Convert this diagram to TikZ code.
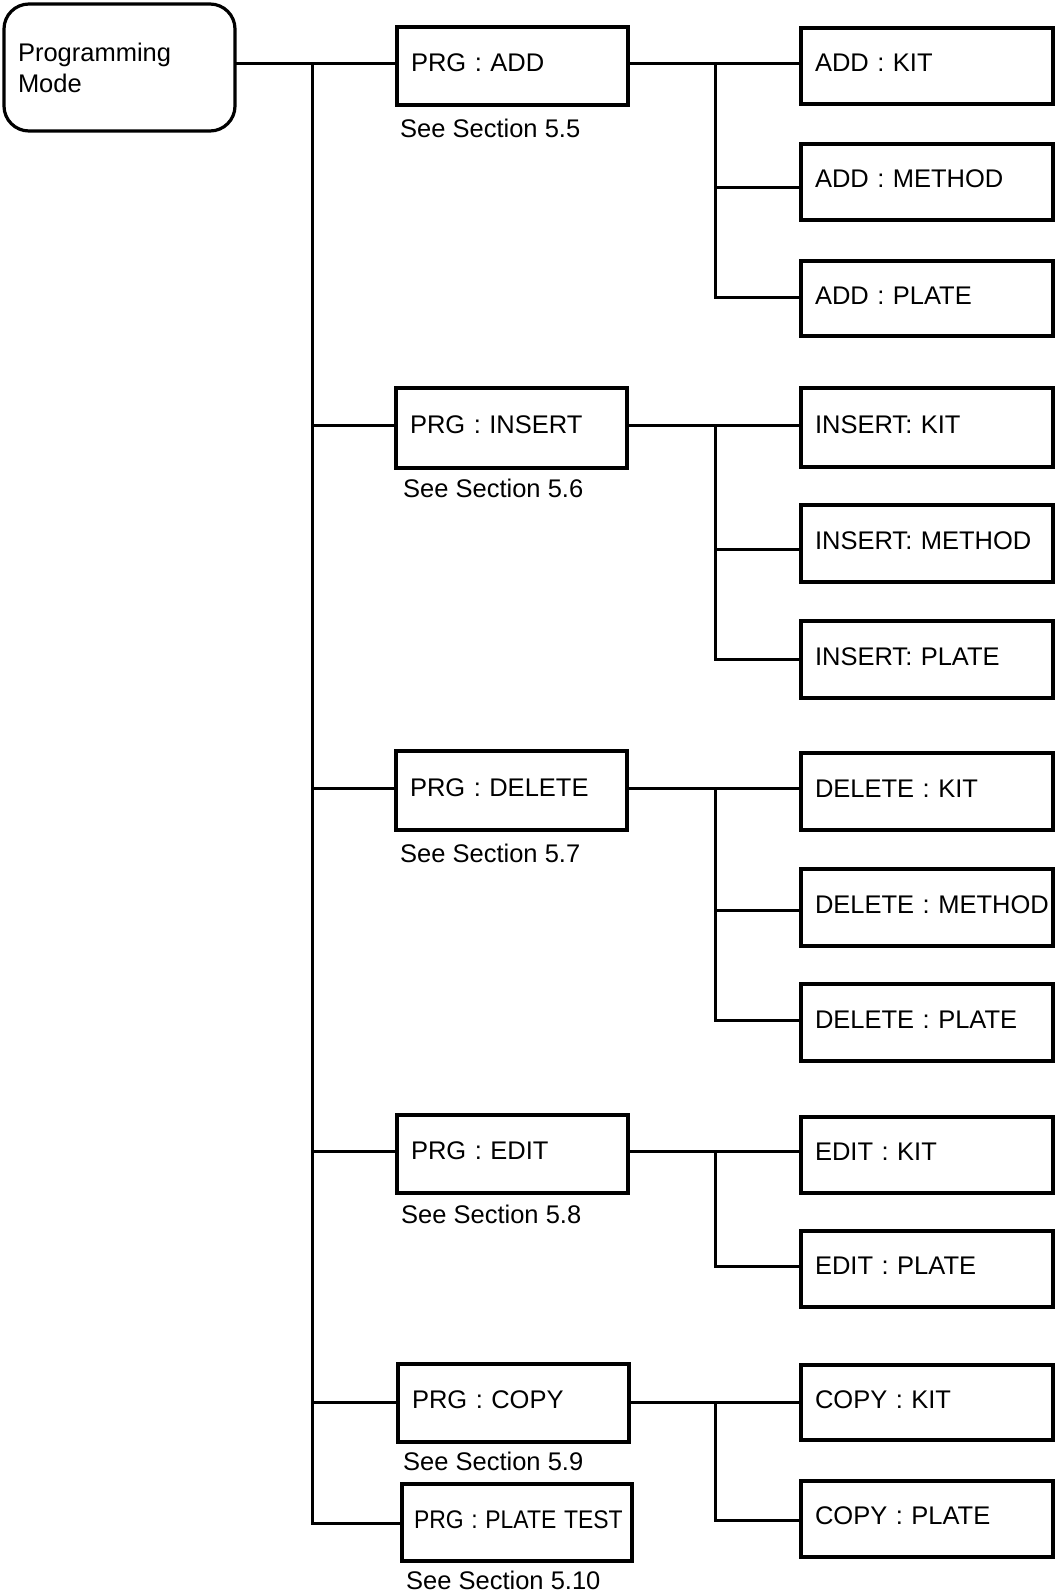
\documentclass[tikz,border=0pt]{standalone}
\usepackage{fontspec}
\setmainfont{Liberation Sans}
\usepackage{graphicx}
\begin{document}
\begin{tikzpicture}[x=1pt,y=-1pt,
  base/.style={draw, line width=3.2pt, outer sep=0pt, inner xsep=14pt, inner ysep=0pt,
    align=left, anchor=north west, font=\fontsize{25.5}{31}\selectfont,
    text height=18pt, text depth=7pt},
  lvl/.style={base, minimum width=231pt, text width=203pt},
  child/.style={base, minimum width=252pt, text width=224pt},
  note/.style={anchor=west, inner sep=0pt, font=\fontsize{25.5}{31}\selectfont,
    text height=18pt, text depth=0pt},
  conn/.style={line width=3pt, line cap=rect}]
\useasboundingbox (0,0) rectangle (1055,1593);

% root
\node[draw, line width=3.2pt, rounded corners=25pt, outer sep=0pt, anchor=north west,
  minimum width=231pt, minimum height=127pt, inner xsep=14pt, text width=203pt,
  align=left, font=\fontsize{25.5}{31}\selectfont] (pm) at (4,4) {Programming\\Mode};

% level 1
\node[lvl, minimum height=78pt] (add) at (397,27) {PRG : ADD};
\node[lvl, minimum height=80pt] (ins) at (396,388) {PRG : INSERT};
\node[lvl, minimum height=79pt] (del) at (396,751) {PRG : DELETE};
\node[lvl, minimum height=78pt] (edit) at (397,1115) {PRG : EDIT};
\node[lvl, minimum height=78pt] (copy) at (398,1364) {PRG : COPY};
\node[base, minimum width=230pt, minimum height=77pt, inner xsep=12pt, text width=206pt] (ptest) at (402,1484) {\scalebox{0.9}[1]{PRG : PLATE TEST}};

% notes
\node[note] (n55) at (400,128) {See Section 5.5};
\node[note] (n56) at (403,488) {See Section 5.6};
\node[note] (n57) at (400,853) {See Section 5.7};
\node[note] (n58) at (401,1214) {See Section 5.8};
\node[note] (n59) at (403,1461) {See Section 5.9};
\node[note] (n510) at (406,1580) {See Section 5.10};

% children
\node[child, minimum height=76pt] (akit) at (801,28) {\mbox{ADD : KIT}};
\node[child, minimum height=76pt] (ameth) at (801,144) {\mbox{ADD : METHOD}};
\node[child, minimum height=75pt] (aplate) at (801,261) {\mbox{ADD : PLATE}};

\node[child, minimum height=79pt] (ikit) at (801,388) {\mbox{INSERT: KIT}};
\node[child, minimum height=77pt] (imeth) at (801,505) {\mbox{INSERT: METHOD}};
\node[child, minimum height=77pt] (iplate) at (801,621) {\mbox{INSERT: PLATE}};

\node[child, minimum height=77pt] (dkit) at (801,753) {\mbox{DELETE : KIT}};
\node[child, minimum height=77pt] (dmeth) at (801,869) {\mbox{DELETE : METHOD}};
\node[child, minimum height=77pt] (dplate) at (801,984) {\mbox{DELETE : PLATE}};

\node[child, minimum height=76pt] (ekit) at (801,1117) {\mbox{EDIT : KIT}};
\node[child, minimum height=76pt] (eplate) at (801,1231) {\mbox{EDIT : PLATE}};

\node[child, minimum height=75pt] (ckit) at (801,1365) {\mbox{COPY : KIT}};
\node[child, minimum height=76pt] (cplate) at (801,1481) {\mbox{COPY : PLATE}};

% trunk coordinates
\coordinate (tA) at (312,63);
\coordinate (tB) at (312,425);
\coordinate (tC) at (312,788);
\coordinate (tD) at (312,1151);
\coordinate (tE) at (312,1402);
\coordinate (tF) at (312,1523);

\draw[conn] (pm.east |- tA) -- (add.west |- tA);
\draw[conn] (tA) -- (tF) -- (ptest.west |- tF);
\draw[conn] (tB) -- (ins.west |- tB);
\draw[conn] (tC) -- (del.west |- tC);
\draw[conn] (tD) -- (edit.west |- tD);
\draw[conn] (tE) -- (copy.west |- tE);

% ADD branch
\coordinate (aJ1) at (715,63);
\coordinate (aJ2) at (715,187);
\coordinate (aJ3) at (715,297);
\draw[conn] (add.east |- aJ1) -- (akit.west |- aJ1);
\draw[conn] (aJ1) -- (aJ3) -- (aplate.west |- aJ3);
\draw[conn] (aJ2) -- (ameth.west |- aJ2);

% INSERT branch
\coordinate (iJ1) at (715,425);
\coordinate (iJ2) at (715,549);
\coordinate (iJ3) at (715,659);
\draw[conn] (ins.east |- iJ1) -- (ikit.west |- iJ1);
\draw[conn] (iJ1) -- (iJ3) -- (iplate.west |- iJ3);
\draw[conn] (iJ2) -- (imeth.west |- iJ2);

% DELETE branch
\coordinate (dJ1) at (715,788);
\coordinate (dJ2) at (715,910);
\coordinate (dJ3) at (715,1020);
\draw[conn] (del.east |- dJ1) -- (dkit.west |- dJ1);
\draw[conn] (dJ1) -- (dJ3) -- (dplate.west |- dJ3);
\draw[conn] (dJ2) -- (dmeth.west |- dJ2);

% EDIT branch
\coordinate (eJ1) at (715,1151);
\coordinate (eJ2) at (715,1266);
\draw[conn] (edit.east |- eJ1) -- (ekit.west |- eJ1);
\draw[conn] (eJ1) -- (eJ2) -- (eplate.west |- eJ2);

% COPY branch
\coordinate (cJ1) at (715,1402);
\coordinate (cJ2) at (715,1520);
\draw[conn] (copy.east |- cJ1) -- (ckit.west |- cJ1);
\draw[conn] (cJ1) -- (cJ2) -- (cplate.west |- cJ2);
\end{tikzpicture}
\end{document}
